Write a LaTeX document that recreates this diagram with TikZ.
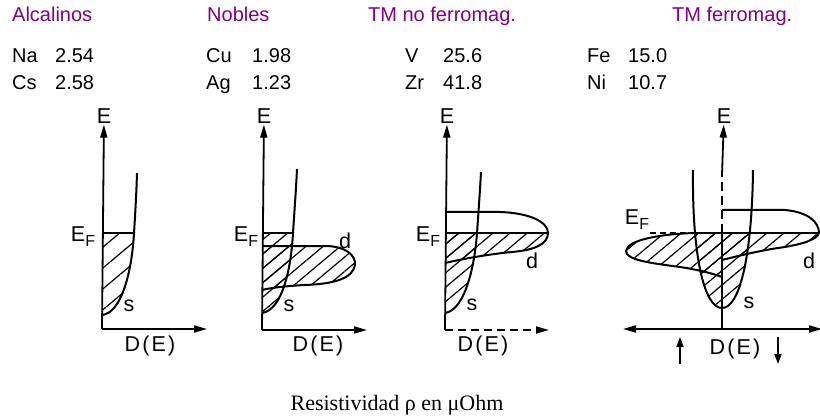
\documentclass[tikz,border=0pt]{standalone}
\usepackage{fontspec}
\setmainfont{Liberation Sans}
\newfontfamily\capfont{Liberation Serif}
\newfontfamily\handfont[LetterSpace=10]{Liberation Sans}
\usetikzlibrary{arrows.meta,patterns.meta}
\definecolor{titlepurple}{RGB}{128,0,128}
\newcommand{\fermi}{E\raisebox{-5pt}{\fontsize{16}{16}\selectfont F}}
\tikzset{
  title/.style={anchor=base west,text=titlepurple,font=\fontsize{20}{20}\selectfont,inner sep=0pt},
  entry/.style={anchor=base west,font=\fontsize{20}{20}\selectfont,inner sep=0pt},
  lbl/.style={font=\handfont\fontsize{21.5}{21.5}\selectfont,inner sep=1pt},
  axis/.style={line width=1.8pt,-{Triangle[length=13pt,width=7pt]}},
  spin/.style={line width=1.7pt,-{Triangle[length=10pt,width=7pt]}},
  curve/.style={line width=2pt},
  hatch/.style={pattern={Lines[angle=40,distance=#1,line width=1.2pt]}},
  hatch/.default=11pt,
}
\begin{document}
\begin{tikzpicture}[x=1pt,y=-1pt]
  \useasboundingbox (0,0) rectangle (820,417);
  % titles and resistivities
  \node[title] (alc) at (12,22) {Alcalinos};
  \node[title] (nob) at (207,22) {Nobles};
  \node[title] (tmn) at (368,22) {TM no ferromag.};
  \node[title] (tmf) at (672,22) {TM ferromag.};
  \node[entry] (na) at (12,63) {Na};   \node[entry] (nav) at (55,63) {2.54};
  \node[entry] (cs) at (12,90) {Cs};   \node[entry] (csv) at (55,90) {2.58};
  \node[entry] (cu) at (206,63) {Cu};  \node[entry] (cuv) at (252,63) {1.98};
  \node[entry] (ag) at (206,90) {Ag};  \node[entry] (agv) at (252,90) {1.23};
  \node[entry] (v) at (405,63) {V};    \node[entry] (vv) at (443,63) {25.6};
  \node[entry] (zr) at (405,90) {Zr};  \node[entry] (zrv) at (443,90) {41.8};
  \node[entry] (fe) at (587,63) {Fe};  \node[entry] (fev) at (628,63) {15.0};
  \node[entry] (ni) at (587,90) {Ni};  \node[entry] (niv) at (628,90) {10.7};

  % alcalinos
  \coordinate (o1) at (102,329);
  \coordinate (x1) at (207,329);
  \node[lbl] (E1) at (104,116) {E};
  \begin{scope}
    \clip (102,233) rectangle (160,330);
    \fill[hatch=16pt] (102,315) .. controls (122,313) and (132,270) .. (134,233)
      .. controls (135.5,210) and (136.5,190) .. (137,173) -- (102,173) -- cycle;
  \end{scope}
  \draw[curve] (102,315) .. controls (122,313) and (132,270) .. (134,233)
    .. controls (135.5,210) and (136.5,190) .. (137,173);
  \draw[curve] (102,233) -- (134,233);
  \draw[axis] (o1) -- (E1);
  \draw[axis] (o1) -- (x1);
  \node[lbl] (F1) at (83,237) {\fermi};
  \node[lbl] (s1) at (129,306) {s};
  \node[lbl] (D1) at (150,346) {D(E)};

  % nobles
  \coordinate (o2) at (262,330);
  \coordinate (x2) at (367,330);
  \node[lbl] (E2) at (264,116) {E};
  \begin{scope}
    \clip (262,233) rectangle (320,330);
    \fill[hatch] (262,313) .. controls (282,310) and (291,270) .. (293,233)
      .. controls (294.5,210) and (296,190) .. (297,169) -- (262,169) -- cycle;
  \end{scope}
  \fill[hatch] (262,246) -- (325,246) .. controls (345,246) and (356,255) .. (355,265)
    .. controls (353,278) and (335,284) .. (305,285)
    .. controls (285,286) and (270,288) .. (262,290) -- cycle;
  \draw[curve] (262,246) -- (325,246) .. controls (345,246) and (356,255) .. (355,265)
    .. controls (353,278) and (335,284) .. (305,285)
    .. controls (285,286) and (270,288) .. (262,290);
  \draw[curve] (262,313) .. controls (282,310) and (291,270) .. (293,233)
    .. controls (294.5,210) and (296,190) .. (297,169);
  \draw[curve] (262,233) -- (293,233);
  \draw[axis] (o2) -- (E2);
  \draw[axis] (o2) -- (x2);
  \node[lbl] (F2) at (246,237) {\fermi};
  \node[lbl] (d2) at (345,241) {d};
  \node[lbl] (s2) at (289,306) {s};
  \node[lbl] (D2) at (318,346) {D(E)};

  % TM no ferromag.
  \coordinate (o3) at (445,330);
  \coordinate (x3) at (549,330);
  \node[lbl] (E3) at (447,116) {E};
  \begin{scope}
    \clip (445,233) rectangle (560,330);
    \fill[hatch] (445,313) .. controls (466,310) and (475,262) .. (477,233)
      .. controls (479,205) and (480,190) .. (481,172) -- (445,172) -- cycle;
    \fill[hatch] (445,212) -- (500,212) .. controls (530,213) and (548,222) .. (548,233)
      .. controls (548,244) and (535,250) .. (512,252)
      .. controls (490,254) and (462,259) .. (445,263) -- cycle;
  \end{scope}
  \draw[curve] (445,212) -- (500,212) .. controls (530,213) and (548,222) .. (548,233)
    .. controls (548,244) and (535,250) .. (512,252)
    .. controls (490,254) and (462,259) .. (445,263);
  \draw[curve] (445,313) .. controls (466,310) and (475,262) .. (477,233)
    .. controls (479,205) and (480,190) .. (481,172);
  \draw[curve] (445,233) -- (548,233);
  \draw[axis] (o3) -- (E3);
  \draw[axis,dash pattern=on 8pt off 5pt] (o3) -- (x3);
  \node[lbl] (F3) at (428,237) {\fermi};
  \node[lbl] (d3) at (532,261) {d};
  \node[lbl] (s3) at (472,305) {s};
  \node[lbl] (D3) at (483,346) {D(E)};

  % TM ferromag.
  \coordinate (o4) at (722,329);
  \coordinate (xl4) at (623,329);
  \coordinate (xr4) at (822,329);
  \coordinate (ef4) at (722,233);
  \coordinate (dsh4) at (722,175);
  \node[lbl] (E4) at (724,116) {E};
  \fill[hatch] (695,233) .. controls (660,234) and (627,240) .. (626,251)
    .. controls (626,260) and (650,263) .. (680,267)
    .. controls (700,270) and (714,274) .. (722,277) -- (722,233) -- cycle;
  \begin{scope}
    \clip (600,233) rectangle (820,330);
    \fill[hatch] (693,170) .. controls (692,255) and (704,308) .. (722,308)
      .. controls (740,308) and (752,255) .. (753,170) -- cycle;
    \fill[hatch] (722,210) -- (785,210) .. controls (808,212) and (819,222) .. (819,233)
      .. controls (817,240) and (800,245) .. (778,248)
      .. controls (758,251) and (738,256) .. (722,260) -- cycle;
  \end{scope}
  \draw[curve] (695,233) .. controls (660,234) and (627,240) .. (626,251)
    .. controls (626,260) and (650,263) .. (680,267)
    .. controls (700,270) and (714,274) .. (722,277);
  \draw[curve] (722,210) -- (785,210) .. controls (808,212) and (819,222) .. (819,233)
    .. controls (817,240) and (800,245) .. (778,248)
    .. controls (758,251) and (738,256) .. (722,260);
  \draw[curve] (693,170) .. controls (692,255) and (704,308) .. (722,308)
    .. controls (740,308) and (752,255) .. (753,170);
  \draw[curve,dash pattern=on 6pt off 4pt] (650,233) -- (695,233);
  \draw[curve] (695,233) -- (820,233);
  \draw[line width=1.8pt] (o4) -- (ef4);
  \draw[line width=1.8pt,dash pattern=on 9pt off 5pt] (ef4) -- (dsh4);
  \draw[axis] (dsh4) -- (E4);
  \draw[line width=1.8pt,{Triangle[length=13pt,width=7pt]}-{Triangle[length=13pt,width=7pt]}] (xl4) -- (xr4);
  \coordinate (up0) at (680,364);  \coordinate (up1) at (680,337);
  \coordinate (dn0) at (778,337);  \coordinate (dn1) at (778,364);
  \draw[spin] (up0) -- (up1);
  \draw[spin] (dn0) -- (dn1);
  \node[lbl] (F4) at (637,220) {\fermi};
  \node[lbl] (d4) at (809,261) {d};
  \node[lbl] (s4) at (749,303) {s};
  \node[lbl] (D4) at (735,349) {D(E)};

  \node[anchor=base,inner sep=0pt,font=\capfont\fontsize{22}{22}\selectfont] (cap) at (397,410) {Resistividad ρ en μOhm};
\end{tikzpicture}
\end{document}
